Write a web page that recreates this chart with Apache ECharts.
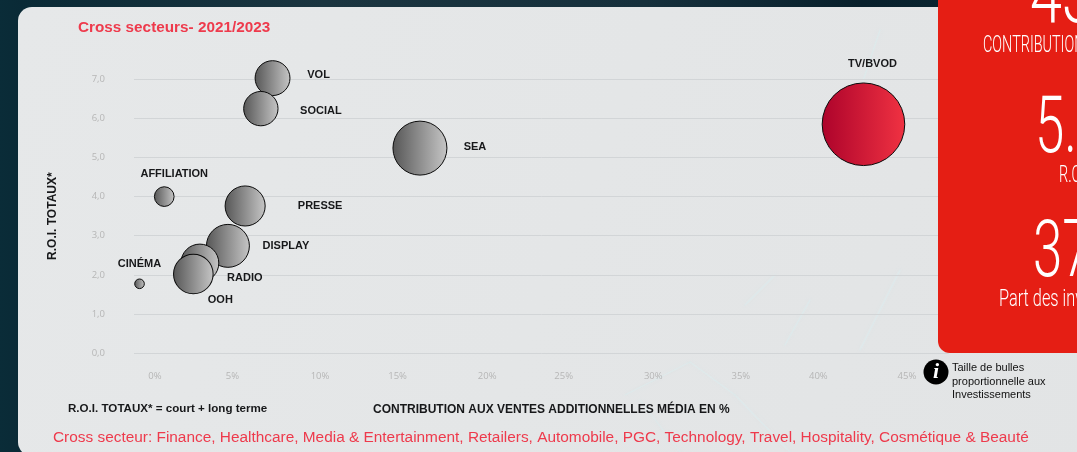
<!DOCTYPE html>
<html><head><meta charset="utf-8">
<style>html,body{margin:0;padding:0;background:#0b2a35;overflow:hidden}#c{width:1077px;height:452px}</style>
<script src="https://cdn.jsdelivr.net/npm/echarts@6/dist/echarts.min.js"></script>
</head><body><div id="c"></div>
<script>
const names = ['TV/BVOD','VOL','SOCIAL','SEA','AFFILIATION','PRESSE','DISPLAY','RADIO','OOH','CINÉMA'];
const contribution = [42.4,7.04,6.34,15.86,0.56,5.4,4.37,2.69,2.3,-0.92];
const roi = [5.85,7.03,6.25,5.24,4.0,3.76,2.74,2.3,2.02,1.77];
const investment = [37,6.6,6.4,15.8,2.1,8.7,10,7.8,8.5,0.5];
const xTicks = [0,5,10,15,20,25,30,35,40,45];
const yTicks = [0,1,2,3,4,5,6,7];

const labelOffset = {'TV/BVOD':[9,-60],'VOL':[46,-3],'SOCIAL':[60,2],'SEA':[55,-1],'AFFILIATION':[10,-23],'PRESSE':[75,0],'DISPLAY':[58,0],'RADIO':[45,15],'OOH':[27,26],'CINÉMA':[0,-20]};
const xNudge = {0:0,5:-6,10:-2,15:-8,20:-2,25:-9,30:-3,35:1,40:-5,45:0};
const sans = '"Liberation Sans", Arial, sans-serif';
const red = '#ee3a4c';
const ink = '#17181a';
const grad = (a,b)=>new echarts.graphic.LinearGradient(0,0,1,0,[{offset:0,color:a},{offset:1,color:b}]);

const data = names.map((n,i)=>({
  name:n, value:[contribution[i],roi[i],investment[i]],
  itemStyle:{opacity:1,color:n==='TV/BVOD'?grad('#ad032b','#f03242'):grad('#565656','#c6c6c6'),borderColor:'#0a0a0a',borderWidth:1},
  label:{show:true,position:'inside',offset:labelOffset[n],formatter:n,color:ink,fontFamily:sans,fontWeight:'bold',fontSize:11}
}));
const xRich = {};
Object.keys(xNudge).forEach(k=>{const d=xNudge[k];xRich['t'+k]={padding:d<0?[0,-2*d,0,0]:[0,0,0,2*d],color:'#b6b6b6',fontSize:9.5,fontFamily:'"Open Sans",sans-serif'};});

const txt=(x,y,text,style,extra)=>Object.assign({type:'text',x,y,style:Object.assign({text,fontFamily:sans,verticalAlign:'middle'},style)},extra||{});
const cond=(x,y,text,size,sx)=>({type:'text',x,y,scaleX:sx,z:21,style:{text,fill:'#fff',fontFamily:'Roboto',fontWeight:300,fontSize:size,verticalAlign:'middle',align:'left'}});
const streak=(x1,y1,x2,y2,w)=>({type:'line',z:-9,silent:true,shape:{x1,y1,x2,y2},style:{stroke:'rgba(215,240,242,0.38)',lineWidth:w,lineCap:'round',shadowBlur:4,shadowColor:'rgba(215,240,242,0.5)'}});

const chart = echarts.init(document.getElementById('c'),null,{renderer:'canvas'});
chart.setOption({
  animation:false,
  backgroundColor:'transparent',
  grid:{left:134,right:128.3,top:79.3,bottom:99,containLabel:false},
  xAxis:{type:'value',min:-1.25,max:47.5,interval:1.25,
    name:'CONTRIBUTION AUX VENTES ADDITIONNELLES MÉDIA EN %',nameLocation:'middle',nameGap:51,
    nameTextStyle:{fontFamily:sans,fontWeight:'bold',fontSize:12,color:ink,padding:[0,0,0,20]},
    axisLine:{show:false},axisTick:{show:false},splitLine:{show:false},
    axisLabel:{margin:18,hideOverlap:false,showMinLabel:false,showMaxLabel:false,formatter:v=>xTicks.includes(v)?`{t${v}|${v}%}`:'',rich:xRich}},
  yAxis:{type:'value',min:0,max:7,interval:1,
    name:'R.O.I. TOTAUX*',nameLocation:'middle',nameGap:75,nameRotate:90,
    nameTextStyle:{fontFamily:sans,fontWeight:'bold',fontSize:12,color:ink},
    axisLine:{show:false},axisTick:{show:false},
    splitLine:{show:true,lineStyle:{color:'#d2d5d7',width:1}},
    axisLabel:{margin:29,color:'#b6b6b6',fontSize:9.5,fontFamily:'"Open Sans",sans-serif',padding:[0,0,4,0],formatter:v=>yTicks.includes(v)?v.toFixed(1).replace('.',','):''}},
  series:[{type:'scatter',data,clip:false,symbolSize:v=>2*Math.sqrt(v[2]*46.1),z:5,emphasis:{disabled:true}}],
  graphic:[
    {type:'rect',z:-20,silent:true,shape:{x:0,y:0,width:1077,height:452},style:{fill:new echarts.graphic.LinearGradient(0,0,1,0,[{offset:0,color:'#0a2c38'},{offset:.02,color:'#0a2a36'},{offset:.3,color:'#1b3540'},{offset:.6,color:'#16303c'},{offset:.8,color:'#08202c'},{offset:1,color:'#0a2a36'}])}},
    {type:'rect',z:-10,silent:true,shape:{x:18,y:7,width:1100,height:449,r:14},style:{fill:new echarts.graphic.LinearGradient(0,0,1,1,[{offset:0,color:'#e6e8e9'},{offset:1,color:'#e2e4e5'}])}},
    streak(680,452,640,400,1.2),streak(625,395,690,362,1.2),streak(690,362,735,395,1.2),streak(735,395,790,452,1.2),
    streak(745,305,775,275,1.5),streak(785,345,810,300,1.5),streak(860,350,900,270,1.5),streak(860,90,880,30,1.5),
    {type:'rect',z:20,silent:true,shape:{x:938,y:-20,width:180,height:373,r:12},style:{fill:'#e51e14'}},
    cond(1030,2,'43',80,0.72), cond(983,46,'CONTRIBUTION',24,0.6),
    cond(1035,132,'5.',80,0.66), cond(1059,176,'R.O.I.',24,0.6),
    cond(1033,256,'37',80,0.66), cond(999,300,'Part des investissements',24,0.68),
    txt(78,28,'Cross secteurs- 2021/2023',{fill:red,fontWeight:'bold',fontSize:15.3}),
    txt(68,409,'R.O.I. TOTAUX* = court + long terme',{fill:ink,fontWeight:'bold',fontSize:11.6}),
    txt(53,438,'Cross secteur: Finance, Healthcare, Media & Entertainment, Retailers, Automobile, PGC, Technology, Travel, Hospitality, Cosmétique & Beauté',{fill:red,fontSize:15.4}),
    {type:'circle',z:22,shape:{cx:936,cy:372,r:12.5},style:{fill:'#000'}},
    {type:'text',z:23,x:936,y:372,style:{text:'i',fill:'#fff',fontFamily:'"Liberation Serif",serif',fontStyle:'italic',fontWeight:'bold',fontSize:22,align:'center',verticalAlign:'middle'}},
    txt(952,368,'Taille de bulles',{fill:'#111',fontSize:11}),
    txt(952,382,'proportionnelle aux',{fill:'#111',fontSize:11}),
    txt(952,395,'Investissements',{fill:'#111',fontSize:11})
  ]
});
</script></body></html>
